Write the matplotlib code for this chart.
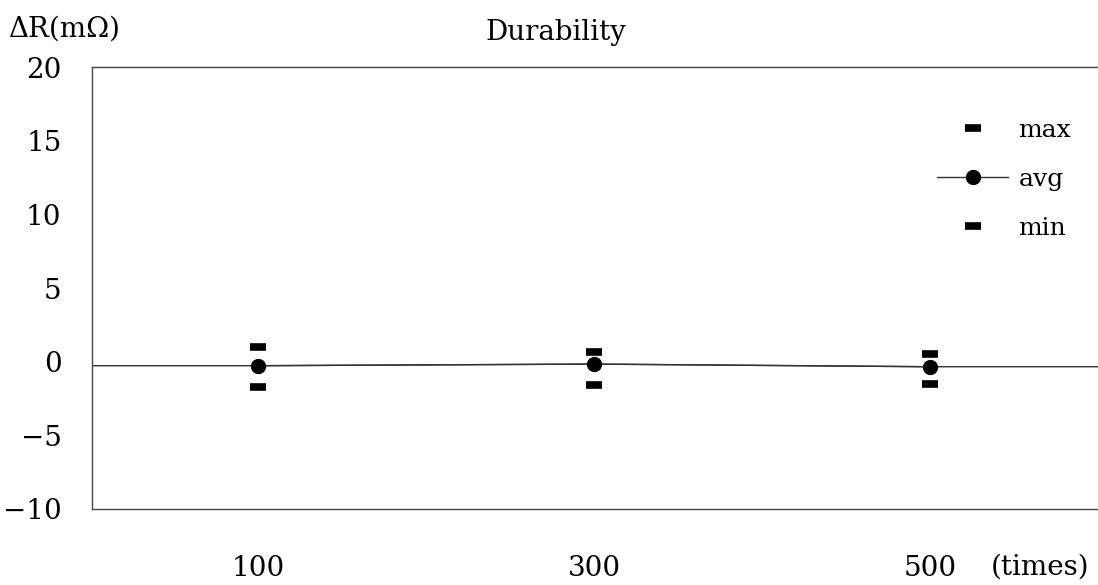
import matplotlib
matplotlib.use("Agg")
import matplotlib.pyplot as plt

# data
cycles = [100, 300, 500]
r_max = [1.0, 0.65, 0.5]
r_avg = [-0.27, -0.16, -0.34]
r_min = [-1.7, -1.58, -1.53]
y_ticks = [-10, -5, 0, 5, 10, 15, 20]

plt.rcParams['font.family'] = ['DejaVu Serif']

fig = plt.figure(figsize=(10.98, 5.85), dpi=100)
ax = fig.add_axes([0.0838, 0.130, 0.9162, 0.755])

xlim = (1, 600)
ax.set_xlim(*xlim)
ax.set_ylim(-10, 20)

# avg line extended to axis edges
ax.plot([xlim[0]] + cycles + [xlim[1]], [r_avg[0]] + r_avg + [r_avg[-1]],
        color='#333333', lw=1.0, zorder=2)
ax.plot(cycles, r_max, linestyle='none', marker='_', markersize=12,
        markeredgewidth=5.5, color='black', label='max', zorder=3)
ax.plot(cycles, r_avg, linestyle='-', lw=1.0, color='#333333', marker='o',
        markersize=10, markerfacecolor='black', markeredgecolor='black',
        label='avg', zorder=3)
ax.plot(cycles, r_min, linestyle='none', marker='_', markersize=12,
        markeredgewidth=5.5, color='black', label='min', zorder=3)

handles, labels = ax.get_legend_handles_labels()
leg = ax.legend(handles, labels, loc='upper left', bbox_to_anchor=(0.840, 0.884),
                frameon=False, fontsize=18, handlelength=2.85, labelspacing=1.05,
                handletextpad=0.4, borderaxespad=0, borderpad=0)

ax.set_yticks(y_ticks)
ax.set_yticklabels([f"{v}".replace('-', '\u2212') for v in y_ticks])
ax.set_xticks(cycles)
ax.set_xticklabels([str(c) for c in cycles])
ax.tick_params(axis='both', length=0, labelsize=20)
ax.tick_params(axis='y', pad=22)
ax.tick_params(axis='x', pad=33)

ax.spines['right'].set_visible(False)
for s in ['left', 'top', 'bottom']:
    ax.spines[s].set_linewidth(1.0)
    ax.spines[s].set_color('#444444')

fig.text(0.506, 0.945, 'Durability', ha='center', va='center', fontsize=20)
fig.text(0.008, 0.950, '\u0394R(m\u03a9)', ha='left', va='center', fontsize=20)
fig.text(0.947, 0.030, '(times)', ha='center', va='center', fontsize=20)

fig.savefig('out.png', dpi=100)
